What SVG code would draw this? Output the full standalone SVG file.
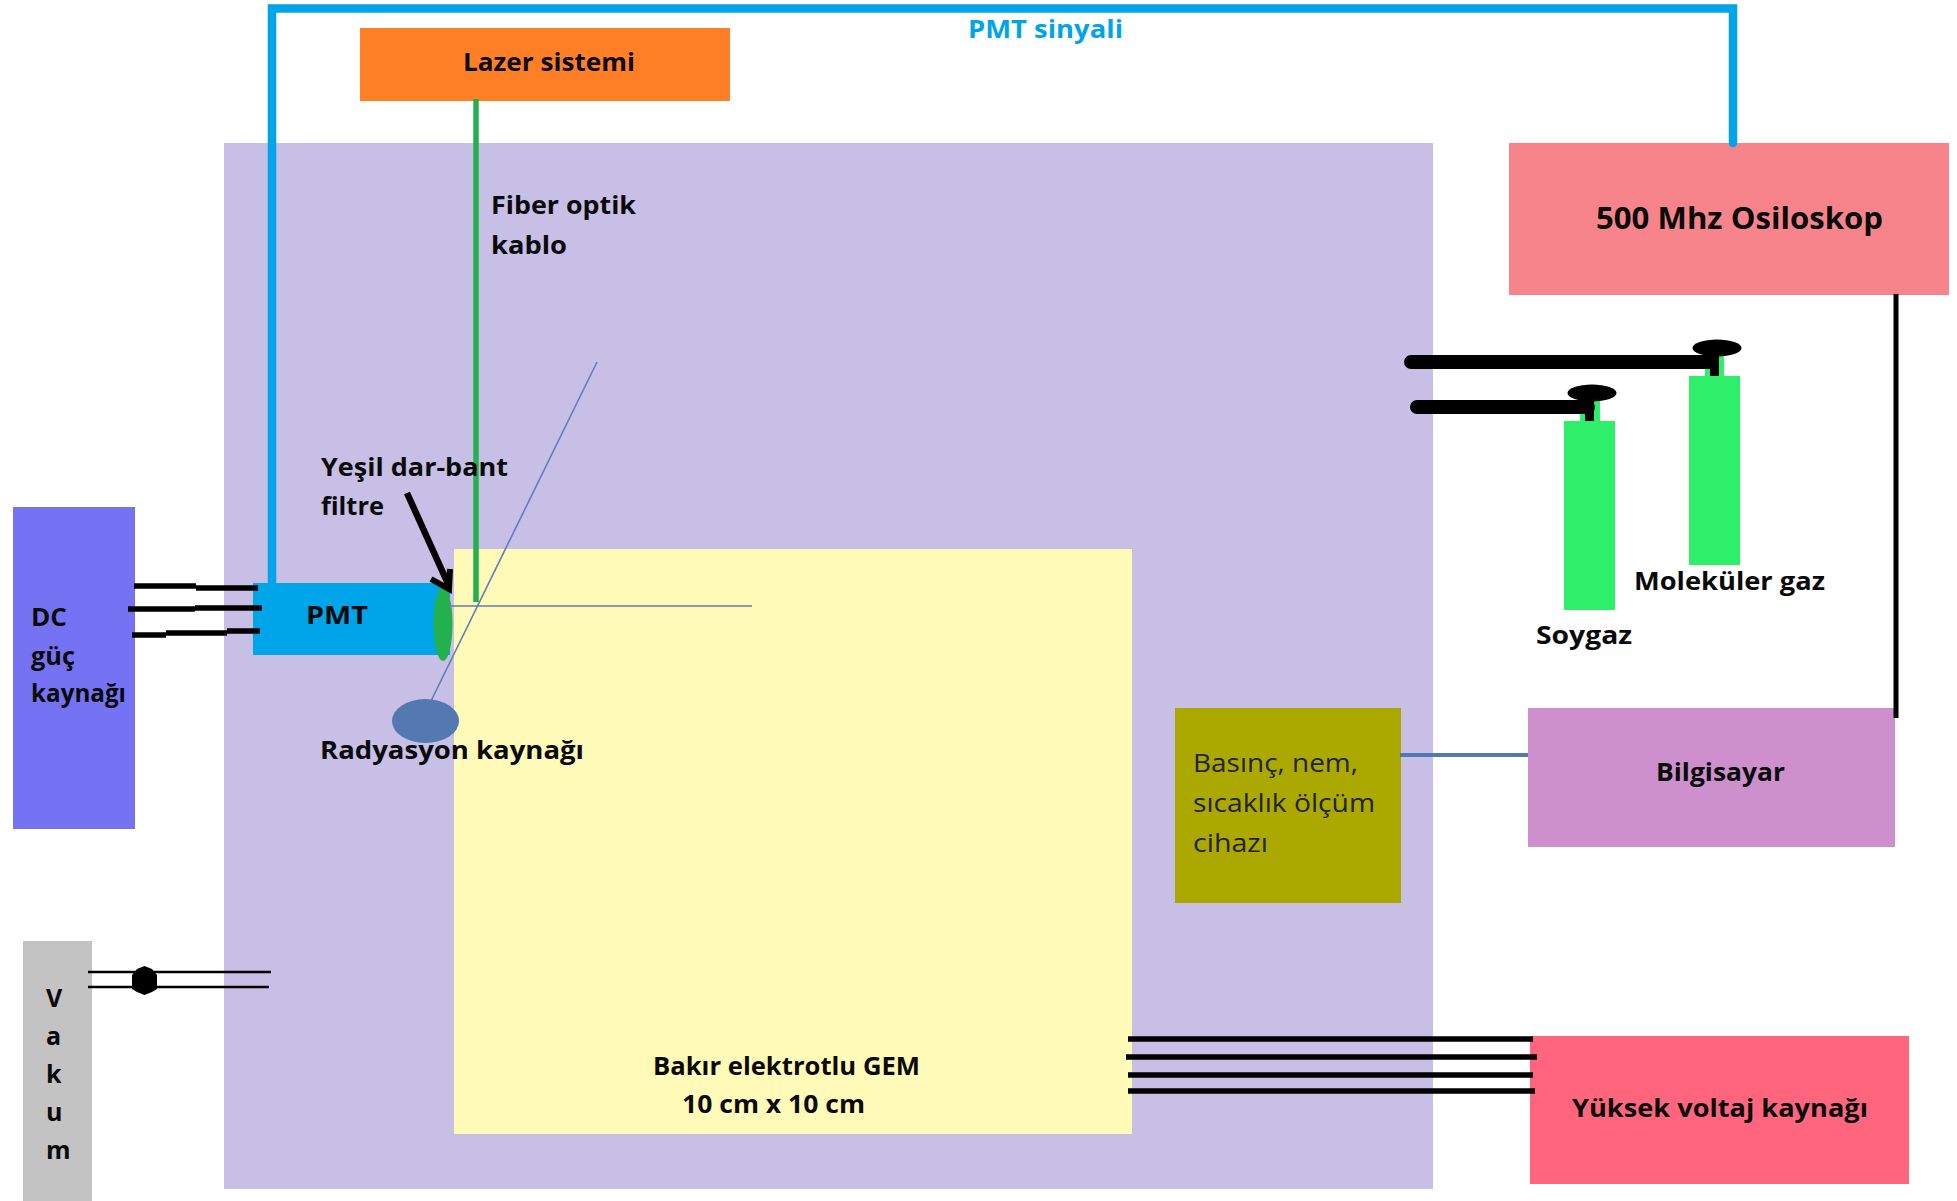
<svg xmlns="http://www.w3.org/2000/svg" width="1957" height="1201" viewBox="0 0 1957 1201">
<style>
text{font-family:"Open Sans","Noto Sans",sans-serif;font-weight:700;font-size:25px;fill:#0a0a0a}
.big{font-size:30px}
.reg{font-weight:400;fill:#222}
.k{fill:none;stroke:#000;stroke-width:5.5}
.t{fill:none;stroke:#000;stroke-width:2.5}
.h{fill:none;stroke:#000;stroke-width:14;stroke-linecap:round}
.b{fill:none;stroke:#00a4e8;stroke-width:8.500}
.cyl{fill:#2def6a}
</style>
<rect width="1957" height="1201" fill="#fff"/>
<g id="chamber"><rect x="224" y="143" width="1209" height="1046" fill="#c7bfe6"/></g>
<g id="gem"><rect x="454" y="549" width="678" height="585" fill="#fffab8"/><text x="653" y="1075" textLength="267" lengthAdjust="spacingAndGlyphs">Bakır elektrotlu GEM</text><text x="682" y="1113" textLength="183" lengthAdjust="spacingAndGlyphs">10 cm x 10 cm</text></g>
<g id="lazer"><rect x="360" y="28" width="370" height="73" fill="#ff7f27"/><text x="463" y="71" textLength="172" lengthAdjust="spacingAndGlyphs">Lazer sistemi</text></g>
<g id="osiloskop"><rect x="1509" y="143" width="440" height="152" fill="#f7848a"/><text class="big" x="1596" y="229" textLength="287" lengthAdjust="spacingAndGlyphs">500 Mhz Osiloskop</text></g>
<g id="dc"><rect x="13" y="507" width="122" height="322" fill="#7573f4"/><text x="31" y="626" textLength="36" lengthAdjust="spacingAndGlyphs">DC</text><text x="31" y="665" textLength="44" lengthAdjust="spacingAndGlyphs">güç</text><text x="31" y="702" textLength="95" lengthAdjust="spacingAndGlyphs">kaynağı</text></g>
<g id="pmt"><rect x="253" y="583" width="197" height="72" fill="#00a4e8"/><text x="306" y="624" textLength="62" lengthAdjust="spacingAndGlyphs">PMT</text></g>
<g id="filtre"><ellipse cx="443" cy="624" rx="9.500" ry="37" fill="#22b14c"/></g>
<g id="vakum"><rect x="23" y="941" width="69" height="260" fill="#c3c3c3"/><text x="46" y="1007">V</text><text x="46" y="1045">a</text><text x="46" y="1083">k</text><text x="46" y="1121">u</text><text x="46" y="1159">m</text></g>
<g id="olcum"><rect x="1175" y="708" width="226" height="195" fill="#aba900"/><text class="reg" x="1193" y="772" textLength="165" lengthAdjust="spacingAndGlyphs">Basınç, nem,</text><text class="reg" x="1193" y="812" textLength="182" lengthAdjust="spacingAndGlyphs">sıcaklık ölçüm</text><text class="reg" x="1193" y="852" textLength="75" lengthAdjust="spacingAndGlyphs">cihazı</text></g>
<g id="bilgisayar"><rect x="1528" y="708" width="367" height="139" fill="#ce8fcd"/><text x="1656" y="781" textLength="129" lengthAdjust="spacingAndGlyphs">Bilgisayar</text></g>
<g id="yuksek"><rect x="1530" y="1036" width="379" height="148" fill="#ff667d"/><text x="1572" y="1117" textLength="296" lengthAdjust="spacingAndGlyphs">Yüksek voltaj kaynağı</text></g>
<g id="soygaz"><rect class="cyl" x="1564" y="421" width="51" height="189"/><rect class="cyl" x="1580" y="400" width="20" height="21"/><text x="1536" y="644" textLength="96" lengthAdjust="spacingAndGlyphs">Soygaz</text></g>
<g id="molekuler"><rect class="cyl" x="1689" y="376" width="51" height="189"/><rect class="cyl" x="1705" y="355" width="19" height="21"/><text x="1634" y="590" textLength="191" lengthAdjust="spacingAndGlyphs">Moleküler gaz</text></g>
<g id="radyasyon"><ellipse cx="425.500" cy="721" rx="33.500" ry="22" fill="#5379b0"/></g>
<g id="connectors">
<path class="b" d="M272 583V8.500H1733V143" stroke-linecap="round"/>
<path d="M476 99V602" fill="none" stroke="#22b14c" stroke-width="5.500"/>
<path d="M597 362L431 701M448 606H752" fill="none" stroke="#5f7fb5" stroke-width="1.600"/>
<path class="k" d="M134 586H196M196 588H258M128 609H195M195 608H262M132 635H166M166 633H227M227 631H260"/>
<path class="t" d="M88 972H271M88 987H269"/>
<path d="M137 969L144.500 966L152 969L157 975V989L152 992L144.500 995L137 992L132 989V975Z" fill="#000"/>
<path class="k" d="M1128 1039H1533M1126 1057H1537M1128 1075H1533M1128 1091H1535"/>
<path d="M1400 755H1528" fill="none" stroke="#4f78b4" stroke-width="4"/>
<path d="M1896 294V718" fill="none" stroke="#000" stroke-width="5"/>
<path class="h" d="M1411 362H1712M1417 407H1588"/>
<path d="M1585 400h9v21h-9zM1710 355h9v21h-9z" fill="#000"/>
<ellipse cx="1592" cy="393" rx="24.500" ry="8.500" fill="#000"/>
<ellipse cx="1717" cy="348" rx="24.500" ry="8.500" fill="#000"/>
<path d="M407 493L449 586" fill="none" stroke="#000" stroke-width="6.500"/>
<path d="M431 579L449 589L450 569" fill="none" stroke="#000" stroke-width="6"/>
</g>
<g id="labels">
<text x="968" y="38" style="fill:#00a4e8" textLength="155" lengthAdjust="spacingAndGlyphs">PMT sinyali</text>
<text x="491" y="214" textLength="145" lengthAdjust="spacingAndGlyphs">Fiber optik</text><text x="491" y="254" textLength="76" lengthAdjust="spacingAndGlyphs">kablo</text>
<text x="321" y="476" textLength="187" lengthAdjust="spacingAndGlyphs">Yeşil dar-bant</text><text x="321" y="515" textLength="63" lengthAdjust="spacingAndGlyphs">filtre</text>
<text x="320" y="759" textLength="264" lengthAdjust="spacingAndGlyphs">Radyasyon kaynağı</text>
</g>
</svg>
